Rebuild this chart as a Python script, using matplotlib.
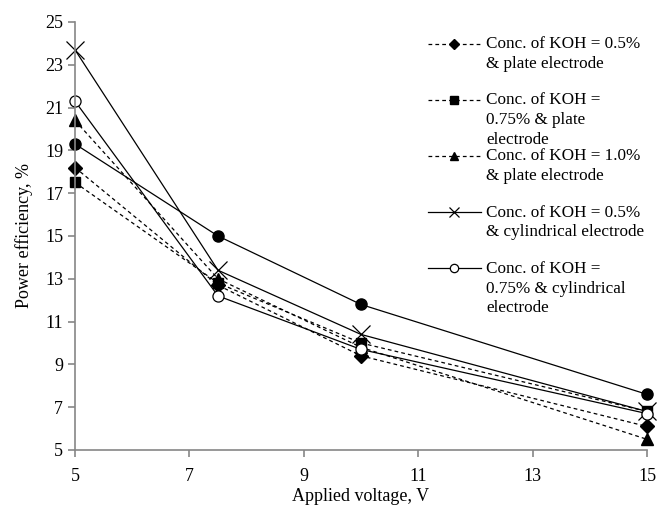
import matplotlib.pyplot as plt

plt.rcParams['font.family'] = ['Liberation Serif', 'DejaVu Serif']

# Data
voltage = [5, 7.5, 10, 15]
koh05_plate = [18.2, 12.7, 9.4, 6.1]
koh075_plate = [17.5, 12.8, 10.0, 6.8]
koh10_plate = [20.4, 13.0, 9.8, 5.5]
koh05_cyl = [23.7, 13.4, 10.4, 6.8]
koh075_cyl = [21.3, 12.2, 9.7, 6.7]
koh10_cyl = [19.3, 15.0, 11.8, 7.6]

# every label padded to three lines, so each legend slot has the same height
labels = [
    'Conc. of KOH = 0.5%\n& plate electrode\n',
    'Conc. of KOH =\n0.75% & plate\nelectrode',
    'Conc. of KOH = 1.0%\n& plate electrode\n',
    'Conc. of KOH = 0.5%\n& cylindrical electrode\n',
    'Conc. of KOH =\n0.75% & cylindrical\nelectrode',
]

fig = plt.figure(figsize=(6.57, 5.08), dpi=100)
ax = fig.add_axes([75 / 657, 58 / 508, 572 / 657, 428 / 508])

dash = (0, (3, 2.5))
lw = 0.9
ax.plot(voltage, koh05_plate, color='black', ls=dash, lw=lw, marker='D', ms=7, label=labels[0], clip_on=False)
ax.plot(voltage, koh075_plate, color='black', ls=dash, lw=lw, marker='s', ms=7, label=labels[1], clip_on=False)
ax.plot(voltage, koh10_plate, color='black', ls=dash, lw=lw, marker='^', ms=8, label=labels[2], clip_on=False)
ax.plot(voltage, koh05_cyl, color='black', ls='-', lw=lw, marker='x', ms=13, mew=0.9, label=labels[3], clip_on=False)
ax.plot(voltage, koh075_cyl, color='black', ls='-', lw=lw, marker='o', ms=8, mfc='white', mew=0.9,
        label=labels[4], clip_on=False)
ax.plot(voltage, koh10_cyl, color='black', ls='-', lw=lw, marker='o', ms=8, label='_nolegend_', clip_on=False)

ax.set_xlim(5, 15)
ax.set_ylim(5, 25)
ax.set_xticks([5, 7, 9, 11, 13, 15])
ax.set_yticks(range(5, 26, 2))

for side in ['top', 'right']:
    ax.spines[side].set_visible(False)
for side in ['left', 'bottom']:
    ax.spines[side].set_color('#868686')
    ax.spines[side].set_linewidth(1.2)
ax.tick_params(axis='both', colors='#868686', labelcolor='black', labelsize=13,
               direction='out', length=5, width=1.2)
ax.tick_params(axis='x', pad=8)

ax.set_xlabel('Applied voltage, V', fontsize=13, labelpad=2)
ax.set_ylabel('Power efficiency, %', fontsize=13, labelpad=9)

fs = 12.3
leg = ax.legend(loc='upper left', bbox_to_anchor=(428 / 657, 1 - 36 / 508),
                bbox_transform=fig.transFigure, frameon=False, fontsize=fs,
                handlelength=3.1, handletextpad=0.3, labelspacing=0.03,
                borderaxespad=0, borderpad=0)
for t in leg.get_texts():
    t.set_linespacing(1.32)

# move each handle up to the first line of its label
step = 1.18 * fs
small = [5.5, 5.5, 6, 7, 6]
for h, ms in zip(leg.legend_handles, small):
    h.set_ydata([y + step for y in h.get_ydata()])
    h.set_markersize(ms)

plt.savefig('out.png', dpi=100)
